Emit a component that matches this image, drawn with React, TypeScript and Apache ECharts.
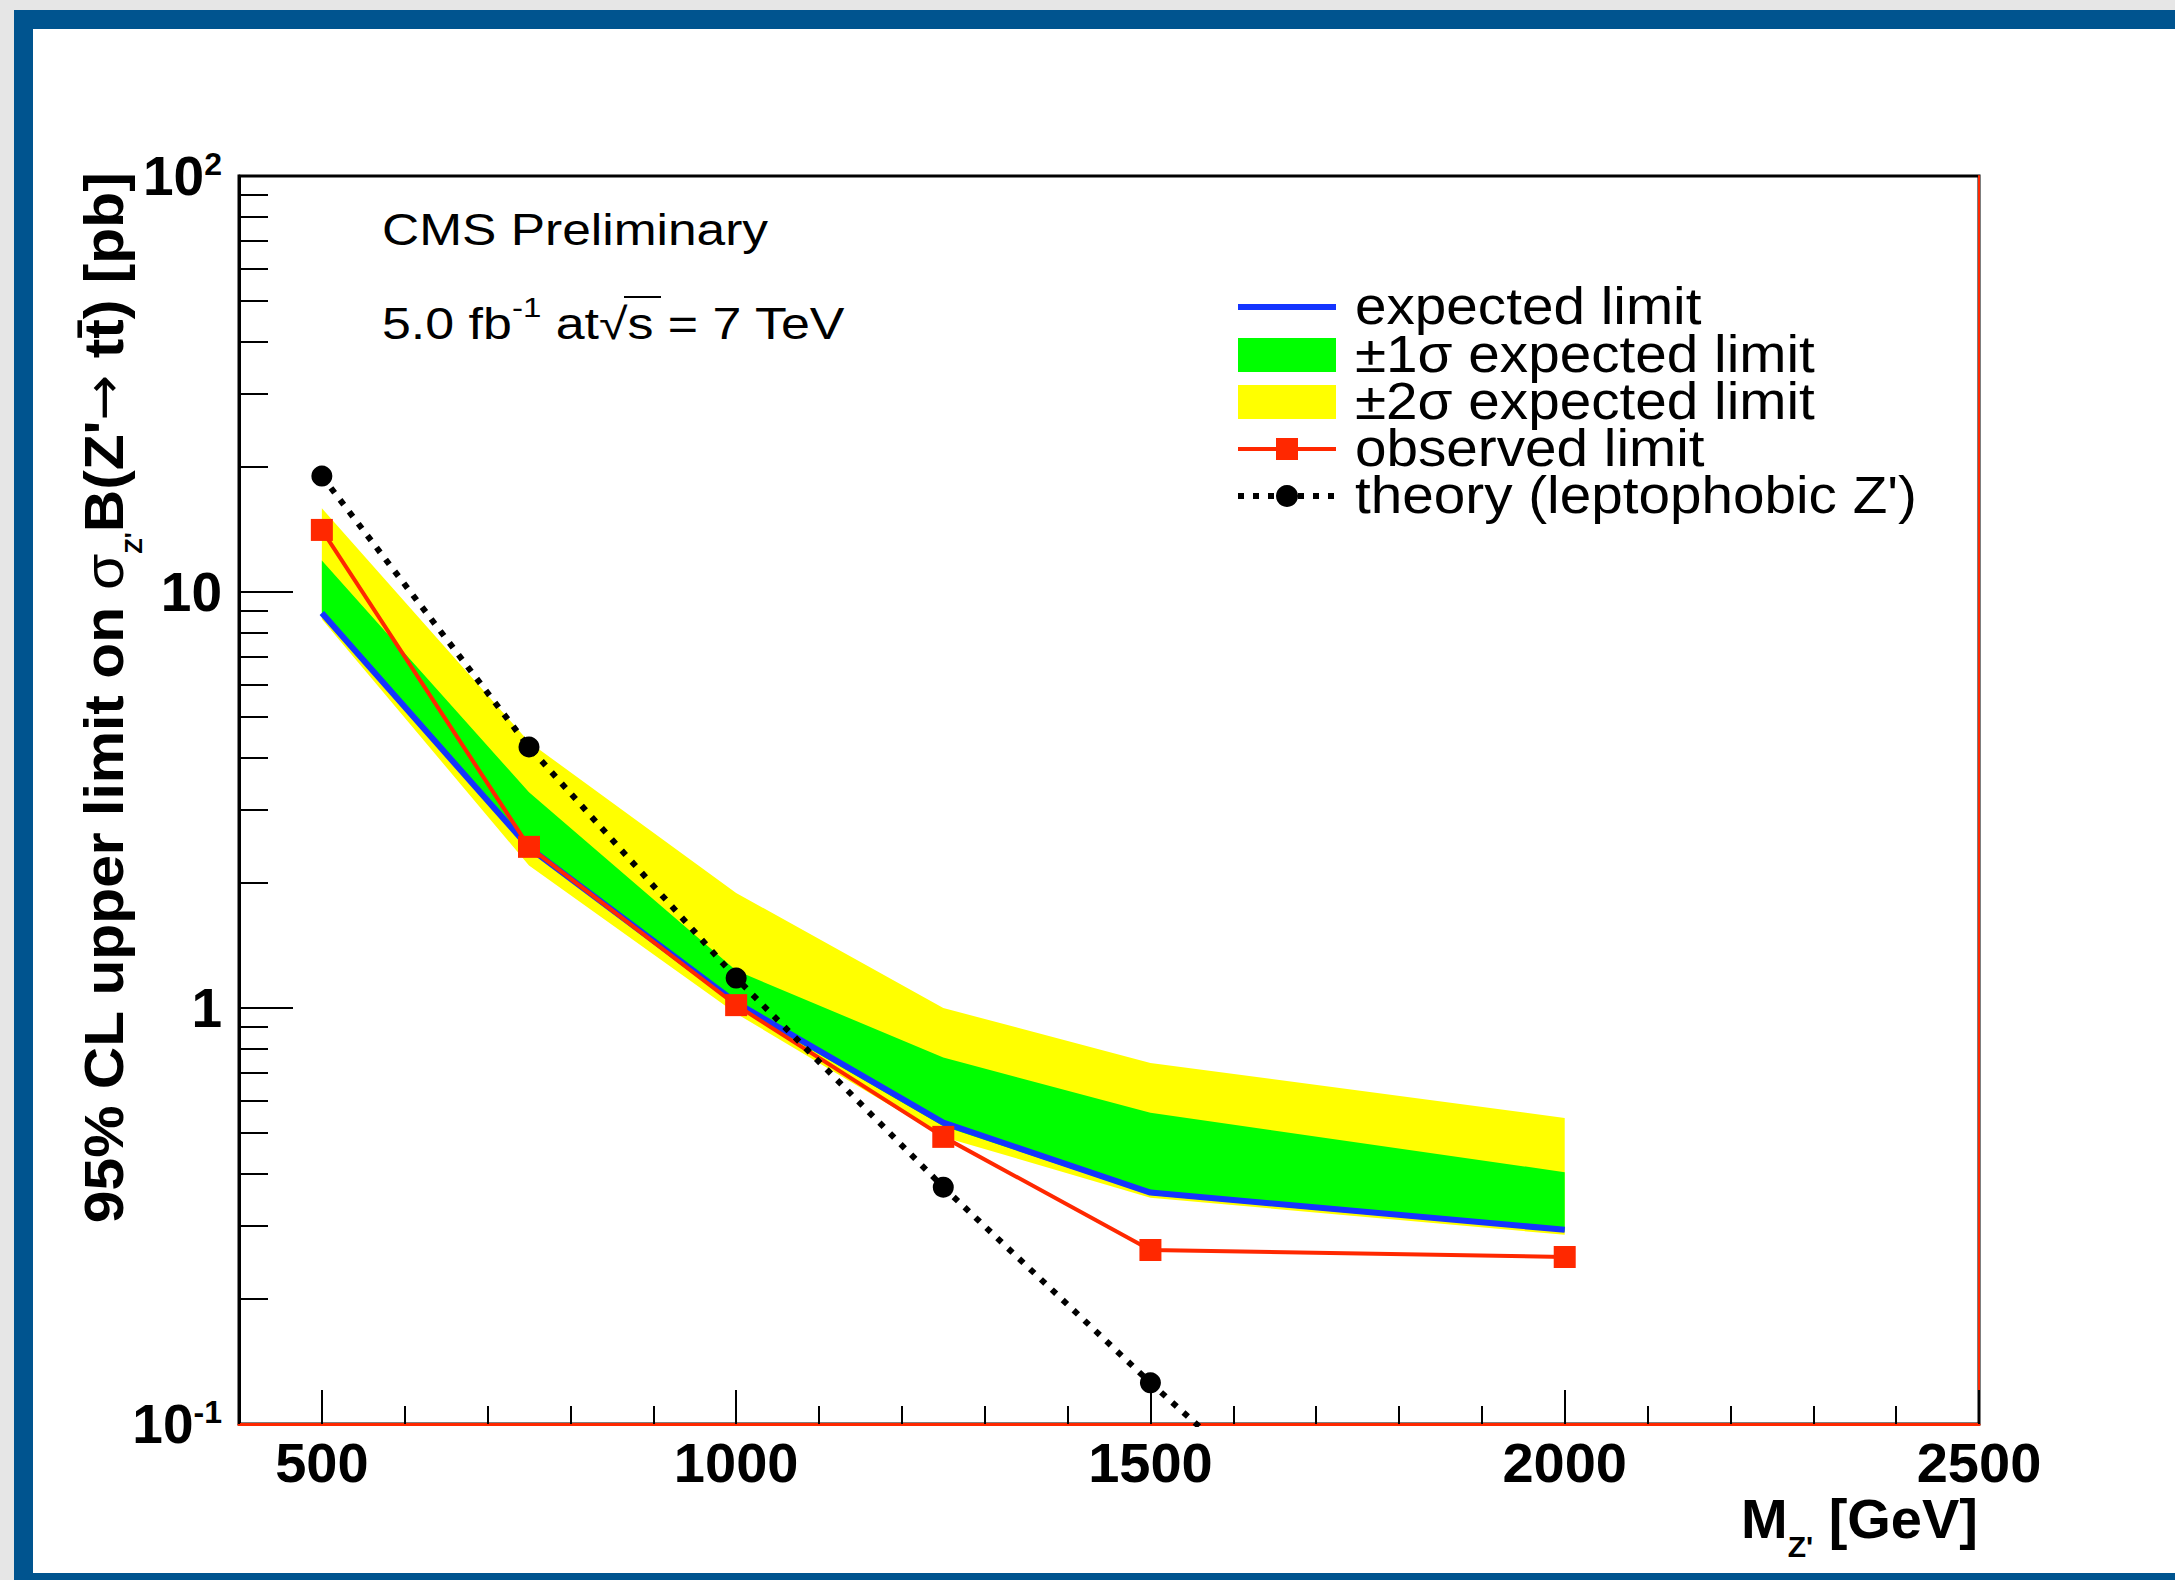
import React, { useEffect, useRef } from 'react';
import * as echarts from 'echarts';

const FONT = '"Liberation Sans", Arial, Helvetica, sans-serif';

// ---- data ----
const massPoints = [500, 750, 1000, 1250, 1500, 2000];
const expectedLimit = [8.9, 2.43, 1.03, 0.53, 0.36, 0.293];
const oneSigmaUpper = [11.9, 3.3, 1.23, 0.76, 0.56, 0.403];
const oneSigmaLower = [8.8, 2.4, 1.01, 0.52, 0.355, 0.29];
const twoSigmaUpper = [15.9, 4.36, 1.89, 1.0, 0.738, 0.544];
const twoSigmaLower = [8.6, 2.2, 0.97, 0.49, 0.35, 0.285];
const observedLimit = [14.1, 2.44, 1.016, 0.49, 0.262, 0.252];
const theoryMass = [500, 750, 1000, 1250, 1500, 1750];
const theoryXsec = [19.0, 4.24, 1.18, 0.371, 0.1256, 0.045];

const xMajorTicks = [500, 1000, 1500, 2000, 2500];
const yMajorTicks = [1, 10, 100];
const yMinorTicks = [
  0.2, 0.3, 0.4, 0.5, 0.6, 0.7, 0.8, 0.9,
  2, 3, 4, 5, 6, 7, 8, 9,
  20, 30, 40, 50, 60, 70, 80, 90,
];
const legendLabels = [
  'expected limit',
  '\u00B11\u03C3 expected limit',
  '\u00B12\u03C3 expected limit',
  'observed limit',
  "theory (leptophobic Z')",
];

const YELLOW = '#ffff00';
const GREEN = '#00ff00';
const BLUE = '#1434ff';
const RED = '#ff2800';

function bandSeries(name: string, upper: number[], lower: number[], color: string, z: number) {
  return {
    type: 'custom',
    name,
    silent: true,
    z,
    data: [[massPoints[0], upper[0]]],
    renderItem: (_params: any, api: any) => {
      const pts: number[][] = [];
      for (let i = 0; i < massPoints.length; i++) pts.push(api.coord([massPoints[i], upper[i]]));
      for (let i = massPoints.length - 1; i >= 0; i--) pts.push(api.coord([massPoints[i], lower[i]]));
      return { type: 'polygon', shape: { points: pts }, style: { fill: color, stroke: 'none' } };
    },
  };
}

function yLabel(v: number) {
  const e = Math.round(Math.log10(v));
  if (e === 0) return '{b|1}';
  if (e === 1) return '{b|10}';
  return '{b|10}{s|' + e + '}';
}

const legendRows = [307, 355, 402, 449, 496];
const LX0 = 1238;
const LX1 = 1336;
const LXC = (LX0 + LX1) / 2;

function buildOption() {
  const graphic: any[] = [];
  // top-left texts
  graphic.push({
    type: 'text', x: 382, y: 230, scaleX: 1.17, z: 20,
    style: { text: 'CMS Preliminary', fontFamily: FONT, fontSize: 44, fill: '#000', align: 'left', verticalAlign: 'middle' },
  });
  graphic.push({
    type: 'text', x: 382, y: 323, scaleX: 1.18, z: 20,
    style: {
      text: '5.0 fb{sup|-1} at\u221As = 7 TeV',
      fontFamily: FONT, fontSize: 44, lineHeight: 60, fill: '#000', align: 'left', verticalAlign: 'middle',
      rich: { sup: { fontFamily: FONT, fontSize: 28, lineHeight: 28, verticalAlign: 'top', fill: '#000' } },
    },
  });
  // overline of the square root
  graphic.push({ type: 'line', z: 20, shape: { x1: 624, y1: 297, x2: 661, y2: 297 }, style: { stroke: '#000', lineWidth: 2 } });

  // legend symbols
  graphic.push({ type: 'line', z: 20, shape: { x1: LX0, y1: legendRows[0], x2: LX1, y2: legendRows[0] }, style: { stroke: BLUE, lineWidth: 6 } });
  graphic.push({ type: 'rect', z: 20, shape: { x: LX0, y: legendRows[1] - 17, width: LX1 - LX0, height: 34 }, style: { fill: GREEN } });
  graphic.push({ type: 'rect', z: 20, shape: { x: LX0, y: legendRows[2] - 17, width: LX1 - LX0, height: 34 }, style: { fill: YELLOW } });
  graphic.push({ type: 'line', z: 20, shape: { x1: LX0, y1: legendRows[3], x2: LX1, y2: legendRows[3] }, style: { stroke: RED, lineWidth: 4 } });
  graphic.push({ type: 'rect', z: 21, shape: { x: LXC - 11, y: legendRows[3] - 11, width: 22, height: 22 }, style: { fill: RED } });
  graphic.push({ type: 'line', z: 20, shape: { x1: LX0, y1: legendRows[4], x2: LX1, y2: legendRows[4] }, style: { stroke: '#000', lineWidth: 6, lineDash: [6, 9] } });
  graphic.push({ type: 'circle', z: 21, shape: { cx: LXC, cy: legendRows[4], r: 11 }, style: { fill: '#000' } });
  legendLabels.forEach((t, i) => {
    graphic.push({
      type: 'text', x: 1355, y: legendRows[i] - 1, scaleX: 1.09, z: 20,
      style: { text: t, fontFamily: FONT, fontSize: 52, fill: '#000', align: 'left', verticalAlign: 'middle' },
    });
  });

  // y axis title (rotated)
  graphic.push({
    type: 'text', x: 103, y: 698, rotation: Math.PI / 2, scaleX: 1.05, z: 20,
    style: {
      text: "95% CL upper limit on {g|\u03C3}{z|Z'}B(Z'{a|\u2192} tt\u0304) [pb]",
      fontFamily: FONT, fontSize: 56, fontWeight: 'bold', lineHeight: 90, fill: '#000',
      align: 'center', verticalAlign: 'middle',
      rich: {
        g: { fontFamily: FONT, fontSize: 56, fontWeight: 'normal', lineHeight: 90, fill: '#000' },
        a: { fontFamily: '"DejaVu Sans", sans-serif', fontSize: 52, fontWeight: 'normal', lineHeight: 90, fill: '#000' },
        z: { fontFamily: FONT, fontSize: 24, fontWeight: 'bold', lineHeight: 24, verticalAlign: 'top', padding: [64, 0, 0, 0], fill: '#000' },
      },
    },
  });
  // x axis title
  graphic.push({
    type: 'text', x: 1978, y: 1518, z: 20,
    style: {
      text: "M{z|Z'} [GeV]",
      fontFamily: FONT, fontSize: 56, fontWeight: 'bold', lineHeight: 90, fill: '#000',
      align: 'right', verticalAlign: 'middle',
      rich: {
        z: { fontFamily: FONT, fontSize: 30, fontWeight: 'bold', lineHeight: 30, verticalAlign: 'top', padding: [58, 0, 0, 0], fill: '#000' },
      },
    },
  });

  const axisLabelRich = {
    b: { fontFamily: FONT, fontSize: 55, fontWeight: 'bold', lineHeight: 56, color: '#000' },
    s: { fontFamily: FONT, fontSize: 32, fontWeight: 'bold', lineHeight: 32, verticalAlign: 'top', color: '#000' },
  };

  return {
    animation: false,
    backgroundColor: 'transparent',
    grid: {
      left: 239, top: 176, width: 1740, height: 1248,
      show: true, borderColor: '#000', borderWidth: 3, backgroundColor: 'transparent',
      outerBoundsMode: 'none',
    },
    xAxis: [
      {
        type: 'value', min: 400, max: 2500, interval: 100, position: 'bottom', z: 5,
        axisLine: { show: true, onZero: false, lineStyle: { color: RED, width: 3 } },
        axisTick: { show: true, inside: true, length: 18, lineStyle: { color: '#000', width: 2 } },
        axisLabel: {
          customValues: xMajorTicks, formatter: (v: number) => String(v),
          fontFamily: FONT, fontSize: 56, fontWeight: 'bold', color: '#000', margin: 10,
        },
        splitLine: { show: false },
      },
      {
        type: 'value', min: 400, max: 2500, position: 'bottom',
        axisLine: { show: false },
        axisTick: { show: true, inside: true, length: 34, customValues: xMajorTicks, lineStyle: { color: '#000', width: 2 } },
        axisLabel: { show: false },
        splitLine: { show: false },
      },
    ],
    yAxis: [
      {
        type: 'log', logBase: 10, min: 0.1, max: 100, interval: 1, position: 'left',
        axisLine: { show: true, onZero: false, lineStyle: { color: '#000', width: 3 } },
        axisTick: { show: true, inside: true, length: 54, customValues: yMajorTicks, lineStyle: { color: '#000', width: 2 } },
        axisLabel: { formatter: yLabel, rich: axisLabelRich, margin: 17, align: 'right' },
        splitLine: { show: false },
        minorTick: { show: false },
      },
      {
        type: 'log', logBase: 10, min: 0.1, max: 100, position: 'left',
        axisLine: { show: false },
        axisTick: { show: true, inside: true, length: 29, customValues: yMinorTicks, lineStyle: { color: '#000', width: 2 } },
        axisLabel: { show: false },
        splitLine: { show: false },
      },
      {
        type: 'log', logBase: 10, min: 0.1, max: 100, position: 'right',
        axisLine: { show: true, onZero: false, lineStyle: { color: RED, width: 2 } },
        axisTick: { show: false },
        axisLabel: { show: false },
        splitLine: { show: false },
      },
    ],
    series: [
      bandSeries('\u00B12\u03C3 expected limit', twoSigmaUpper, twoSigmaLower, YELLOW, 1),
      bandSeries('\u00B11\u03C3 expected limit', oneSigmaUpper, oneSigmaLower, GREEN, 2),
      {
        type: 'line', name: 'expected limit', z: 3,
        data: massPoints.map((m, i) => [m, expectedLimit[i]]),
        showSymbol: false, symbol: 'none',
        lineStyle: { color: BLUE, width: 6 },
      },
      {
        type: 'line', name: 'observed limit', z: 4,
        data: massPoints.map((m, i) => [m, observedLimit[i]]),
        symbol: 'rect', symbolSize: 22,
        itemStyle: { color: RED },
        lineStyle: { color: RED, width: 4 },
      },
      {
        type: 'line', name: "theory (leptophobic Z')", z: 5, clip: true,
        data: theoryMass.map((m, i) => [m, theoryXsec[i]]),
        symbol: 'circle', symbolSize: 21,
        itemStyle: { color: '#000' },
        lineStyle: { color: '#000', width: 6, type: [6, 9] },
      },
    ],
    graphic,
  };
}

export default function App() {
  const ref = useRef<HTMLDivElement>(null);
  useEffect(() => {
    if (!ref.current) return;
    const chart = echarts.init(ref.current, null, { renderer: 'svg' });
    chart.setOption(buildOption() as any);
    return () => chart.dispose();
  }, []);
  return (
    <div style={{ position: 'fixed', left: 0, top: 0, width: 2175, height: 1580, background: '#e6e6e6', overflow: 'hidden' }}>
      <div style={{ position: 'absolute', left: 14, top: 10, right: 0, bottom: 0, background: '#00548f' }} />
      <div style={{ position: 'absolute', left: 33, top: 29, right: 0, bottom: 7, background: '#ffffff' }} />
      <div ref={ref} style={{ position: 'absolute', left: 0, top: 0, width: 2175, height: 1580 }} />
    </div>
  );
}
